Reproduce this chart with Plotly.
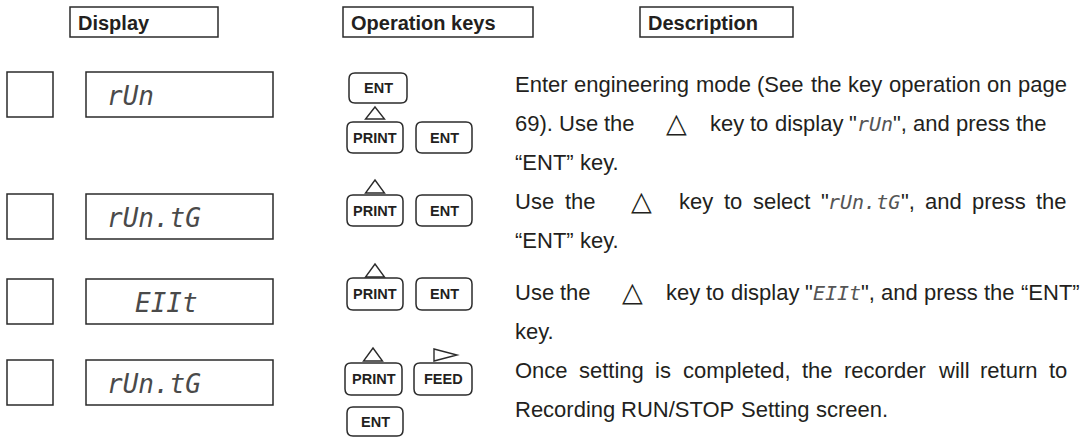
import re
import plotly.graph_objects as go

W, H = 1084, 438

# ---------------- content ----------------
header_labels = ["Display", "Operation keys", "Description"]
display_codes = ["rUn", "rUn.tG", "EIIt", "rUn.tG"]
row_keys = [
    ["ENT", "PRINT", "ENT"],
    ["PRINT", "ENT"],
    ["PRINT", "ENT"],
    ["PRINT", "FEED", "ENT"],
]
description_rows = [
    ["Enter engineering mode (See the key operation on page",
     '69). Use the △ key to display "{rUn}", and press the',
     "“ENT” key."],
    ['Use the △ key to select "{rUn.tG}", and press the',
     "“ENT” key."],
    ['Use the △ key to display "{EIIt}", and press the “ENT”',
     "key."],
    ["Once setting is completed, the recorder will return to",
     "Recording RUN/STOP Setting screen."],
]
justified = [[True, False, False], [True, False], [False, False], [True, False]]

# ---------------- layout geometry (window pixels) ----------------
header_boxes = [(70, 7, 218, 37), (343, 7, 533, 37), (640, 7, 793, 37)]
row_bands = [(72, 117), (194, 239), (279, 324), (360, 405)]
square_x = (7, 53)
display_x = (86, 273)
display_text_x = [107, 107, 135, 107]
key_boxes = [
    [(349, 73, 407, 103), (347, 122, 403, 153), (416, 122, 472, 153)],
    [(347, 195, 403, 226), (416, 195, 472, 226)],
    [(347, 278, 403, 310), (416, 278, 472, 310)],
    [(345, 363, 402, 395), (414, 363, 472, 395), (347, 407, 403, 436)],
]
up_tris = [(375, 107, 119), (375, 180, 193), (375, 264, 277), (373, 348, 361)]
right_tri = (434, 349, 457, 361)
line_ys = [[84, 123, 162], [201, 240], [292, 331], [370, 409]]
X_LEFT, X_RIGHT = 515, 1067

TEXT_COLOR = "#231f20"
LINE_COLOR = "#2b2b2b"
FS = 22          # description font size
SEG_FS = 20      # inline 7-seg size
DISP_FS = 26     # display 7-seg size
SANS = "Liberation Sans, Arial, sans-serif"
MONO = "DejaVu Sans Mono, monospace"

# Arial / Liberation Sans advance widths (per 1000 em)
AW = {' ': 278, '!': 278, '"': 355, '(': 333, ')': 333, ',': 278, '.': 278, '/': 278,
      ':': 278, '“': 333, '”': 333}
for c in '0123456789':
    AW[c] = 556
AW.update(dict(zip('ABCDEFGHIJKLMNOPQRSTUVWXYZ',
                   [667, 667, 722, 722, 667, 611, 778, 722, 278, 500, 667, 556, 833,
                    722, 778, 667, 778, 722, 667, 611, 722, 667, 944, 667, 667, 611])))
AW.update(dict(zip('abcdefghijklmnopqrstuvwxyz',
                   [556, 556, 500, 556, 556, 278, 556, 556, 222, 222, 500, 222, 833,
                    556, 556, 556, 556, 333, 500, 278, 556, 500, 722, 500, 500, 500])))


def text_w(s, fs):
    return sum(AW.get(c, 556) for c in s) * fs / 1000.0


def seg_w(s, fs):
    return len(s) * 0.602 * fs


TRI_GLYPH = 23
TRI_PAD_L = 24
TRI_PAD_R = 16

shapes = []
annotations = []


def ann(x, y, text, size, family, color=TEXT_COLOR, xanchor="left", bold=False, italic=False):
    annotations.append(dict(
        x=x, y=y, xref="x", yref="y", text=text, showarrow=False,
        xanchor=xanchor, yanchor="middle", borderpad=0, borderwidth=0,
        font=dict(size=size, family=family, color=color,
                  weight="bold" if bold else "normal",
                  style="italic" if italic else "normal"),
    ))


def rect(x0, y0, x1, y1, w=1.5):
    shapes.append(dict(type="rect", xref="x", yref="y", x0=x0, y0=y0, x1=x1, y1=y1,
                       line=dict(color=LINE_COLOR, width=w), fillcolor="rgba(0,0,0,0)"))


def rrect(x0, y0, x1, y1, r=6):
    p = (f"M{x0+r},{y0} L{x1-r},{y0} Q{x1},{y0} {x1},{y0+r} L{x1},{y1-r} "
         f"Q{x1},{y1} {x1-r},{y1} L{x0+r},{y1} Q{x0},{y1} {x0},{y1-r} "
         f"L{x0},{y0+r} Q{x0},{y0} {x0+r},{y0} Z")
    shapes.append(dict(type="path", xref="x", yref="y", path=p,
                       line=dict(color=LINE_COLOR, width=1.5), fillcolor="rgba(0,0,0,0)"))


def path(p):
    shapes.append(dict(type="path", xref="x", yref="y", path=p,
                       line=dict(color=LINE_COLOR, width=1.4), fillcolor="rgba(0,0,0,0)"))


# headers
for (x0, y0, x1, y1), lab in zip(header_boxes, header_labels):
    rect(x0, y0, x1, y1)
    ann(x0 + 8, (y0 + y1) / 2 + 0.5, lab, 20, SANS, bold=True)

# display column
for i, (y0, y1) in enumerate(row_bands):
    rect(square_x[0], y0, square_x[1], y1)
    rect(display_x[0], y0, display_x[1], y1)
    ann(display_text_x[i], (y0 + y1) / 2 + 1, display_codes[i], DISP_FS, MONO,
        color="#4a4a4a", italic=True)

# operation keys
for boxes, labels in zip(key_boxes, row_keys):
    for (x0, y0, x1, y1), lab in zip(boxes, labels):
        rrect(x0, y0, x1, y1)
        ann((x0 + x1) / 2, (y0 + y1) / 2, lab, 14.5, SANS, xanchor="center", bold=True)
for cx, ya, yb in up_tris:
    path(f"M{cx},{ya} L{cx+9.5},{yb} L{cx-9.5},{yb} Z")
rx0, ry0, rx1, ry1 = right_tri
path(f"M{rx0},{ry0} L{rx1},{(ry0+ry1)/2} L{rx0},{ry1} Z")


# description
def parts(word):
    out = []
    for i, p in enumerate(re.split(r"[{}]", word)):
        if p:
            out.append((p, i % 2 == 1))
    return out


def place_line(text, y, just):
    infos = []
    for w in text.split(" "):
        if w == "△":
            infos.append(([("△", "tri")], [TRI_GLYPH + TRI_PAD_L + TRI_PAD_R]))
            continue
        ps = parts(w)
        ws = [seg_w(p, SEG_FS) if s else text_w(p, FS) for p, s in ps]
        infos.append((ps, ws))
    total = sum(sum(ws) for _, ws in infos)
    gap = (X_RIGHT - X_LEFT - total) / (len(infos) - 1) if just else text_w(" ", FS)
    x = X_LEFT
    for ps, ws in infos:
        xx = x
        for (p, s), w in zip(ps, ws):
            if s == "tri":
                ann(xx + TRI_PAD_L + TRI_GLYPH / 2, y - 1, "△", 27, "DejaVu Sans",
                    xanchor="center")
            elif s:
                ann(xx, y + 1, p, SEG_FS, MONO, color="#555555", italic=True)
            else:
                ann(xx, y, p, FS, SANS)
            xx += w
        x += sum(ws) + gap


for r, lines in enumerate(description_rows):
    for k, line in enumerate(lines):
        place_line(line, line_ys[r][k], justified[r][k])

fig = go.Figure()
fig.update_layout(
    width=W, height=H, margin=dict(l=0, r=0, t=0, b=0),
    paper_bgcolor="white", plot_bgcolor="white",
    xaxis=dict(range=[0, W], visible=False, fixedrange=True),
    yaxis=dict(range=[H, 0], visible=False, fixedrange=True),
    shapes=shapes, annotations=annotations, showlegend=False,
)
fig.write_html(
    "out.html",
    config={"displayModeBar": False},
    post_script="document.body.style.margin='0';document.body.style.overflow='hidden';",
)
